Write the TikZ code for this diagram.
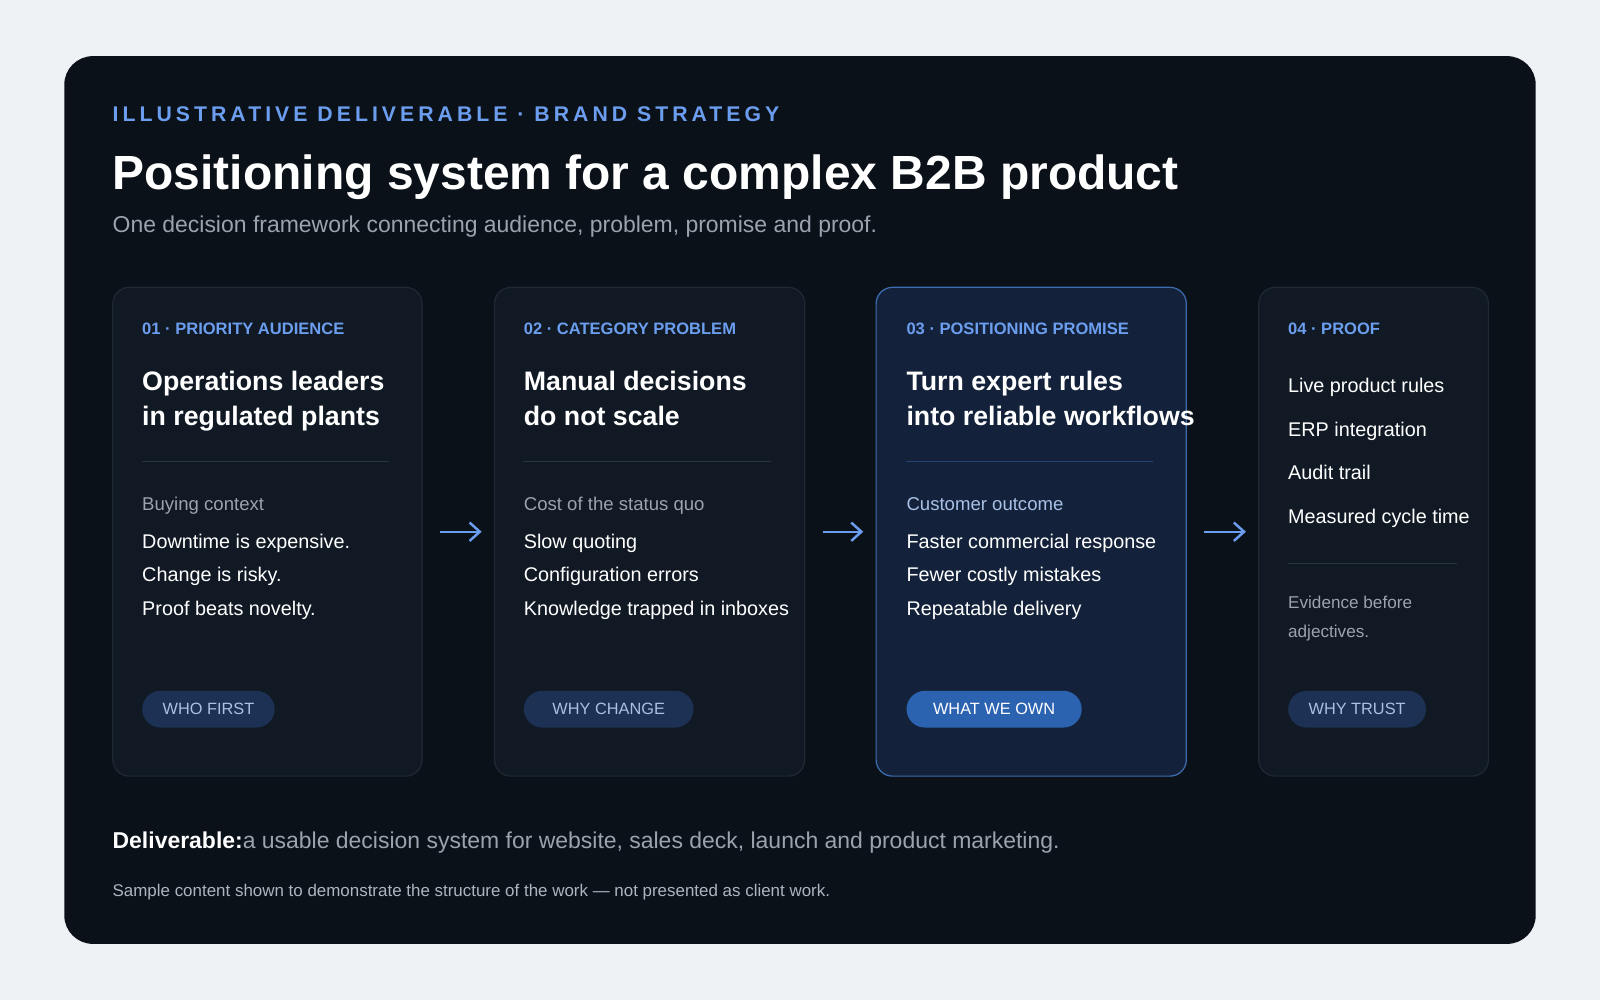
\documentclass[tikz,border=0pt]{standalone}
\usepackage{fontspec}
\setmainfont{Liberation Sans}
\newfontfamily\kickfont{Liberation Sans}[LetterSpace=19]
\usetikzlibrary{arrows.meta,positioning}
\definecolor{pagebg}{HTML}{EEF2F5}
\definecolor{panel}{HTML}{0B1119}
\definecolor{cardbg}{HTML}{111A24}
\definecolor{cardline}{HTML}{1F2934}
\definecolor{hotbg}{HTML}{13223A}
\definecolor{hotline}{HTML}{3D6CAF}
\definecolor{accent}{HTML}{6C9EF0}
\definecolor{muted}{HTML}{9AA3AE}
\definecolor{pillbg}{HTML}{1C3154}
\definecolor{pilltext}{HTML}{A9C1E6}
\definecolor{pillhot}{HTML}{2C63B0}
\definecolor{rule}{HTML}{2A3440}
\tikzset{
  card/.style={draw=cardline, fill=cardbg, line width=0.6pt, rounded corners=8pt, anchor=north west, inner sep=0},
  hotcard/.style={card, draw=hotline, fill=hotbg},
  tag/.style={anchor=mid west, inner sep=0, text=accent, font=\fontsize{8.1}{10}\selectfont\bfseries},
  head/.style={anchor=north west, inner sep=0, text=white, align=left, font=\fontsize{13.1}{17.5}\selectfont\bfseries},
  small/.style={anchor=mid west, inner sep=0, text=muted, font=\fontsize{9.1}{11}\selectfont},
  item/.style={anchor=mid west, inner sep=0, text=white, font=\fontsize{9.7}{12}\selectfont},
  pill/.style={anchor=west, fill=pillbg, text=pilltext, rounded corners=9pt, minimum height=18pt, inner xsep=10pt, inner ysep=0, font=\fontsize{8}{10}\selectfont},
  hotpill/.style={pill, fill=pillhot, text=white},
  flow/.style={-{Straight Barb[length=5pt,width=9pt]}, accent, line width=1.2pt, shorten <=8.5pt, shorten >=6pt}
}
\begin{document}
\begin{tikzpicture}[x=0.5pt,y=-0.5pt]
  \useasboundingbox (0,0) rectangle (1568,980);
  \fill[pagebg] (0,0) rectangle (1568,980);
  \fill[panel, rounded corners=14pt] (63,55) rectangle (1505,925);

  % header
  \node[anchor=mid west, inner sep=0, text=accent, font=\kickfont\fontsize{10.4}{12}\selectfont\bfseries] (kicker) at (110,114) {ILLUSTRATIVE DELIVERABLE · BRAND STRATEGY};
  \node[anchor=mid west, inner sep=0, text=white, font=\fontsize{23.5}{28}\selectfont\bfseries] (title) at (110,180) {Positioning system for a complex B2B product};
  \node[anchor=mid west, inner sep=0, text=muted, font=\fontsize{11.25}{13}\selectfont] (sub) at (110,223) {One decision framework connecting audience, problem, promise and proof.};

  % cards
  \node[card, minimum width=151.5pt, minimum height=239.5pt] (c1) at (110,281) {};
  \node[card, minimum width=152pt, minimum height=239.5pt] (c2) at (484,281) {};
  \node[hotcard, minimum width=152pt, minimum height=239.5pt] (c3) at (858,281) {};
  \node[card, minimum width=112.5pt, minimum height=239.5pt] (c4) at (1233,281) {};

  \draw[flow] (c1.east) -- (c2.west);
  \draw[flow] (c2.east) -- (c3.west);
  \draw[flow] (c3.east) -- (c4.west);

  % card 1
  \node[tag] (t1) at (139,323) {01 · PRIORITY AUDIENCE};
  \node[head] (h1) at (139,363) {Operations leaders\\in regulated plants};
  \draw[rule] (139,452) -- (381,452);
  \node[small] (s1) at (139,495) {Buying context};
  \node[item] (a1) at (139,532) {Downtime is expensive.};
  \node[item] (a2) at (139,565) {Change is risky.};
  \node[item] (a3) at (139,598) {Proof beats novelty.};
  \node[pill] (p1) at (139,695) {WHO FIRST};

  % card 2
  \node[tag] (t2) at (513,323) {02 · CATEGORY PROBLEM};
  \node[head] (h2) at (513,363) {Manual decisions\\do not scale};
  \draw[rule] (513,452) -- (756,452);
  \node[small] (s2) at (513,495) {Cost of the status quo};
  \node[item] (b1) at (513,532) {Slow quoting};
  \node[item] (b2) at (513,565) {Configuration errors};
  \node[item] (b3) at (513,598) {Knowledge trapped in inboxes};
  \node[pill, inner xsep=14pt] (p2) at (513,695) {WHY CHANGE};

  % card 3
  \node[tag] (t3) at (888,323) {03 · POSITIONING PROMISE};
  \node[head] (h3) at (888,363) {Turn expert rules\\into reliable workflows};
  \draw[hotline!45!hotbg] (888,452) -- (1130,452);
  \node[small, text=pilltext] (s3) at (888,495) {Customer outcome};
  \node[item] (d1) at (888,532) {Faster commercial response};
  \node[item] (d2) at (888,565) {Fewer costly mistakes};
  \node[item] (d3) at (888,598) {Repeatable delivery};
  \node[hotpill, inner xsep=13pt] (p3) at (888,695) {WHAT WE OWN};

  % card 4
  \node[tag] (t4) at (1262,323) {04 · PROOF};
  \node[item] (e1) at (1262,379) {Live product rules};
  \node[item] (e2) at (1262,422) {ERP integration};
  \node[item] (e3) at (1262,465) {Audit trail};
  \node[item] (e4) at (1262,508) {Measured cycle time};
  \draw[rule] (1262,552) -- (1428,552);
  \node[small, anchor=north west, align=left, font=\fontsize{8.4}{14}\selectfont] (ev) at (1262,584) {Evidence before\\adjectives.};
  \node[pill] (p4) at (1262,695) {WHY TRUST};

  % footer
  \node[anchor=mid west, inner sep=0, font=\fontsize{11.25}{13}\selectfont] (del) at (110,826) {\textcolor{white}{\bfseries Deliverable:}\textcolor{muted}{a usable decision system for website, sales deck, launch and product marketing.}};
  \node[anchor=mid west, inner sep=0, text=muted!80, font=\fontsize{8.3}{10}\selectfont] (note) at (110,873) {Sample content shown to demonstrate the structure of the work — not presented as client work.};
\end{tikzpicture}
\end{document}
